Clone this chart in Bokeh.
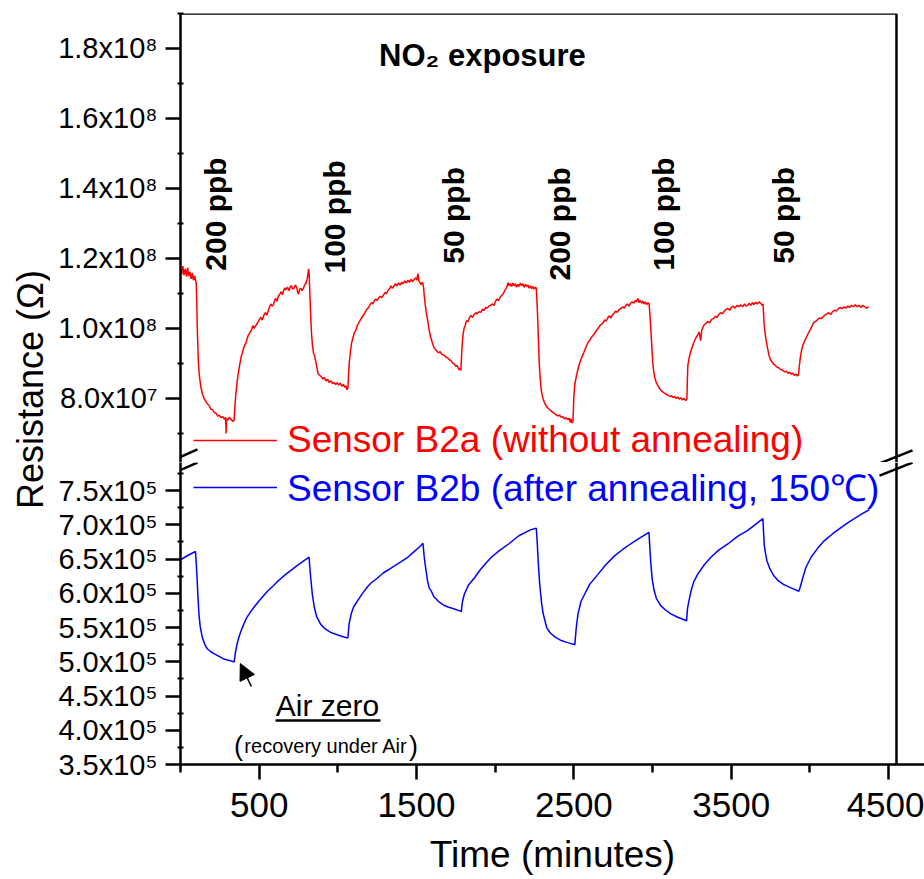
import math
from bokeh.plotting import figure
from bokeh.models import (Range1d, FixedTicker, Label, Arrow,
                          NormalHead, Legend, LegendItem)
from bokeh.layouts import row, column
from bokeh.core.properties import value
from bokeh.embed import file_html
from bokeh.resources import INLINE

FONT = "Liberation Sans"

# ---------------- data (time in minutes, resistance in the axis units) ----------------
# Sensor B2a, resistance in units of 1e7 ohm
red_time = [
    0, 8, 15, 22, 30, 38, 45, 52, 60, 68, 75, 82, 90, 97,
    100, 104, 108, 113, 118, 124, 131, 140, 150, 160,
    170, 182, 192, 203, 214, 225, 236, 246, 258, 268,
    280, 287, 290, 293, 300, 310, 322, 332, 341,
    346, 352, 358, 365, 372, 380, 386, 393, 400, 408,
    415, 423, 430, 438, 445, 453, 460, 468, 475, 484,
    493, 502, 510, 518, 525, 533, 540, 548, 557, 566,
    575, 583, 590, 598, 605, 613, 622, 631, 640, 648,
    655, 663, 670, 680, 690, 698, 705, 713, 722, 730,
    738, 744, 750, 757, 765, 772, 780, 790, 798, 804,
    810, 814, 817,
    822, 827, 832, 838, 845, 851, 862, 874, 885, 895,
    905, 913, 925, 935, 945, 957, 966, 976, 986, 995,
    1005, 1015, 1025, 1035, 1045, 1052, 1058, 1064,
    1068, 1073, 1080, 1088, 1097, 1105, 1115, 1123, 1132, 1140,
    1150, 1158, 1166, 1175, 1185, 1195, 1205, 1214, 1222, 1230,
    1240, 1250, 1260, 1270, 1280, 1290, 1300, 1310, 1320, 1330,
    1338, 1346, 1355, 1365, 1375, 1385, 1395, 1405, 1415, 1425,
    1435, 1445, 1455, 1465, 1475, 1485, 1495, 1502, 1509, 1515,
    1522, 1529, 1536, 1541,
    1545, 1550, 1556, 1562, 1568, 1573, 1580, 1590, 1600, 1611,
    1620, 1630, 1640, 1650, 1660, 1675, 1688, 1700, 1710, 1719,
    1728, 1740, 1750, 1758, 1763, 1770, 1776, 1782,
    1786, 1790, 1795, 1802, 1810, 1818, 1827, 1836, 1846, 1856,
    1866, 1876, 1886, 1896, 1909, 1920, 1930, 1940, 1950, 1960,
    1970, 1980, 1992, 2002, 2012, 2022, 2032, 2042, 2052, 2060,
    2068, 2075, 2081, 2088, 2096, 2104, 2112, 2120, 2128, 2136,
    2144, 2152, 2160, 2168, 2176, 2184, 2192, 2200, 2208, 2216,
    2224, 2232, 2240, 2248, 2255, 2261,
    2265, 2270, 2275, 2280, 2286, 2291, 2298, 2305, 2313, 2322,
    2332, 2342, 2352, 2362, 2372, 2382, 2392, 2399, 2410, 2420,
    2430, 2440, 2450, 2460, 2470, 2476, 2481, 2488, 2494,
    2497, 2500, 2506, 2515, 2524, 2532, 2545, 2560, 2575, 2589,
    2600, 2612, 2625, 2640, 2653, 2665, 2675, 2685, 2695, 2706,
    2716, 2726, 2736, 2746, 2756, 2766, 2776, 2786, 2799, 2810,
    2820, 2830, 2840, 2850, 2860, 2870, 2881, 2890, 2898, 2906,
    2914, 2922, 2930, 2938, 2946, 2954, 2962, 2970, 2978,
    2983, 2990, 2996, 3001, 3008, 3015, 3024, 3033, 3045, 3060,
    3075, 3087, 3097, 3110, 3120, 3130, 3140, 3150, 3160, 3170,
    3180, 3190, 3200, 3211, 3218,
    3221, 3224, 3232, 3240, 3250, 3262, 3274, 3285, 3296, 3306,
    3312, 3326, 3338, 3350, 3362, 3375, 3389, 3400, 3410, 3420,
    3432, 3444, 3456, 3467, 3478, 3490, 3500, 3512, 3524, 3536,
    3548, 3560, 3572, 3584, 3596, 3605, 3615, 3625, 3635, 3645,
    3655, 3665, 3675, 3688, 3696, 3702,
    3705, 3708, 3714, 3720, 3730, 3740, 3750, 3760, 3770, 3780,
    3790, 3800, 3810, 3820, 3830, 3840, 3850, 3860, 3870, 3880,
    3890, 3900, 3910, 3918, 3924, 3927,
    3932, 3937, 3941, 3948, 3955, 3964, 3973, 3985, 4000, 4012,
    4024, 4036, 4048, 4060, 4072, 4084, 4096, 4108, 4120, 4132,
    4144, 4156, 4168, 4180, 4192, 4204, 4216, 4228, 4240, 4252,
    4264, 4276, 4288, 4300, 4312, 4324, 4336, 4348, 4360, 4374,
]
red_res_1e7 = [
    11.72, 11.55, 11.78, 11.52, 11.70, 11.48, 11.74, 11.50, 11.62, 11.42, 11.58, 11.38, 11.50, 11.35,
    11.30, 10.60, 9.80, 9.10, 8.75, 8.50, 8.29, 8.12, 8.00, 7.92,
    7.85, 7.80, 7.70, 7.68, 7.60, 7.58, 7.50, 7.52, 7.45, 7.48,
    7.40, 7.46, 7.00, 7.42, 7.38, 7.46, 7.40, 7.34, 7.38,
    7.80, 8.15, 8.40, 8.65, 8.85, 9.05, 9.20, 9.30, 9.42, 9.52,
    9.58, 9.70, 9.80, 9.85, 9.92, 9.98, 10.08, 10.00, 10.06, 10.12,
    10.18, 10.26, 10.32, 10.24, 10.30, 10.42, 10.45, 10.38, 10.50, 10.62,
    10.70, 10.64, 10.68, 10.80, 10.86, 10.78, 10.92, 10.98, 11.05, 10.96,
    11.08, 11.16, 11.10, 11.18, 11.08, 11.20, 11.22, 11.12, 11.15, 11.24,
    11.18, 11.05, 10.98, 11.12, 11.15, 11.08, 11.14, 11.25, 11.30, 11.40,
    11.55, 11.70, 11.62,
    11.00, 10.40, 9.90, 9.55, 9.30, 9.23, 9.00, 8.72, 8.66, 8.62,
    8.55, 8.60, 8.50, 8.55, 8.46, 8.50, 8.42, 8.46, 8.40, 8.45,
    8.38, 8.44, 8.35, 8.40, 8.32, 8.36, 8.25, 8.30,
    8.70, 9.05, 9.35, 9.60, 9.75, 9.88, 9.95, 10.08, 10.15, 10.22,
    10.30, 10.35, 10.40, 10.48, 10.55, 10.60, 10.68, 10.74, 10.70, 10.78,
    10.84, 10.80, 10.88, 10.92, 10.88, 10.96, 11.02, 11.00, 11.10, 11.14,
    11.22, 11.15, 11.20, 11.28, 11.22, 11.30, 11.24, 11.32, 11.28, 11.36,
    11.30, 11.38, 11.32, 11.40, 11.34, 11.40, 11.45, 11.38, 11.57, 11.36,
    11.30, 11.25, 11.32, 11.28,
    11.15, 10.90, 10.65, 10.45, 10.30, 10.17, 9.95, 9.75, 9.60, 9.45,
    9.40, 9.35, 9.30, 9.34, 9.26, 9.23, 9.18, 9.15, 9.10, 9.08,
    9.02, 8.98, 8.92, 8.95, 8.88, 8.82, 8.86, 8.80,
    9.20, 9.55, 9.80, 10.00, 10.10, 10.22, 10.20, 10.30, 10.37, 10.32,
    10.40, 10.45, 10.42, 10.48, 10.46, 10.55, 10.52, 10.60, 10.58, 10.64,
    10.66, 10.70, 10.66, 10.78, 10.84, 10.80, 10.90, 10.95, 11.00, 11.08,
    11.14, 11.20, 11.31, 11.22, 11.28, 11.20, 11.30, 11.22, 11.28, 11.18,
    11.26, 11.20, 11.30, 11.22, 11.28, 11.18, 11.26, 11.20, 11.24, 11.15,
    11.22, 11.14, 11.20, 11.12, 11.18, 11.15,
    10.80, 10.30, 9.60, 9.00, 8.55, 8.29, 8.10, 7.98, 7.88, 7.80,
    7.74, 7.70, 7.65, 7.62, 7.58, 7.55, 7.52, 7.50, 7.52, 7.46,
    7.48, 7.42, 7.45, 7.40, 7.43, 7.32, 7.42, 7.30, 7.35,
    7.70, 8.09, 8.40, 8.62, 8.80, 8.94, 9.12, 9.28, 9.45, 9.60,
    9.66, 9.75, 9.82, 9.92, 10.00, 10.08, 10.12, 10.16, 10.24, 10.22,
    10.31, 10.36, 10.30, 10.40, 10.44, 10.50, 10.46, 10.54, 10.57, 10.62,
    10.58, 10.66, 10.70, 10.64, 10.72, 10.76, 10.72, 10.80, 10.76, 10.86,
    10.74, 10.80, 10.72, 10.78, 10.70, 10.76, 10.68, 10.74, 10.70,
    10.40, 9.90, 9.40, 9.03, 8.75, 8.58, 8.45, 8.37, 8.28, 8.20,
    8.15, 8.12, 8.09, 8.06, 8.08, 8.03, 8.06, 8.00, 8.04, 7.98,
    8.02, 7.96, 8.00, 7.94, 7.98,
    8.50, 8.94, 9.15, 9.30, 9.45, 9.60, 9.72, 9.80, 9.90, 9.65,
    9.95, 10.09, 10.14, 10.20, 10.16, 10.26, 10.29, 10.35, 10.32, 10.40,
    10.45, 10.42, 10.50, 10.55, 10.57, 10.52, 10.60, 10.64, 10.58, 10.66,
    10.62, 10.68, 10.62, 10.70, 10.64, 10.66, 10.72, 10.66, 10.74, 10.68,
    10.75, 10.70, 10.76, 10.72, 10.66, 10.70,
    10.45, 10.17, 9.90, 9.70, 9.45, 9.23, 9.10, 9.04, 8.98, 8.94,
    8.90, 8.88, 8.84, 8.82, 8.80, 8.76, 8.78, 8.72, 8.75, 8.70,
    8.72, 8.66, 8.70, 8.64, 8.68, 8.66,
    8.90, 9.10, 9.23, 9.40, 9.52, 9.62, 9.71, 9.82, 9.95, 10.06,
    10.17, 10.20, 10.25, 10.30, 10.28, 10.34, 10.38, 10.42, 10.45, 10.40,
    10.48, 10.52, 10.50, 10.56, 10.60, 10.56, 10.62, 10.58, 10.64, 10.60,
    10.66, 10.62, 10.68, 10.62, 10.66, 10.60, 10.66, 10.62, 10.58, 10.62,
]

# Sensor B2b, resistance in units of 1e5 ohm
blue_time = [
    0, 30, 60, 95, 100, 106, 111, 117, 125, 138,
    155, 170, 190, 212, 245, 276, 310, 336, 341, 348,
    356, 365, 380, 395, 404, 420, 440, 468, 500, 530,
    557, 590, 615, 640, 670, 700, 722, 750, 780, 800,
    817, 821, 829, 838, 850, 865, 890, 920, 954, 1000,
    1054, 1064, 1071, 1085, 1100, 1128, 1160, 1190, 1211, 1250,
    1290, 1319, 1360, 1400, 1446, 1490, 1520, 1541, 1548, 1556,
    1570, 1580, 1592, 1610, 1645, 1670, 1700, 1740, 1780, 1784,
    1792, 1804, 1830, 1870, 1900, 1940, 1977, 2030, 2085, 2150,
    2227, 2261, 2268, 2274, 2282, 2295, 2305, 2327, 2350, 2381,
    2420, 2460, 2506, 2515, 2526, 2545, 2569, 2600, 2654, 2700,
    2760, 2810, 2860, 2920, 2977, 2983, 2989, 2998, 3010, 3025,
    3052, 3080, 3116, 3160, 3216, 3222, 3232, 3245, 3262, 3287,
    3330, 3372, 3420, 3478, 3540, 3605, 3650, 3701, 3705, 3710,
    3718, 3726, 3745, 3769, 3800, 3832, 3880, 3929, 3934, 3942,
    3955, 3975, 4008, 4050, 4092, 4145, 4197, 4240, 4282, 4330,
    4378,
]
blue_res_1e5 = [
    6.49, 6.53, 6.57, 6.61, 6.45, 6.19, 5.95, 5.70, 5.52, 5.36,
    5.25, 5.19, 5.15, 5.12, 5.08, 5.04, 5.02, 5.00, 5.00, 5.12,
    5.22, 5.31, 5.42, 5.51, 5.56, 5.64, 5.71, 5.80, 5.89, 5.97,
    6.04, 6.11, 6.17, 6.22, 6.28, 6.33, 6.37, 6.42, 6.47, 6.50,
    6.53, 6.40, 6.19, 5.98, 5.80, 5.66, 5.55, 5.48, 5.43, 5.39,
    5.35, 5.35, 5.55, 5.70, 5.80, 5.90, 6.01, 6.10, 6.15, 6.22,
    6.30, 6.34, 6.40, 6.46, 6.53, 6.62, 6.68, 6.73, 6.55, 6.40,
    6.18, 6.08, 6.04, 5.95, 5.87, 5.83, 5.80, 5.77, 5.74, 5.73,
    5.88, 5.99, 6.12, 6.23, 6.33, 6.44, 6.53, 6.63, 6.72, 6.84,
    6.93, 6.95, 6.70, 6.43, 6.15, 5.85, 5.70, 5.50, 5.42, 5.36,
    5.31, 5.28, 5.25, 5.50, 5.70, 5.88, 5.99, 6.13, 6.28, 6.41,
    6.55, 6.64, 6.72, 6.81, 6.89, 6.65, 6.43, 6.20, 6.04, 5.92,
    5.82, 5.76, 5.70, 5.65, 5.60, 5.78, 5.90, 6.04, 6.17, 6.28,
    6.42, 6.53, 6.63, 6.72, 6.83, 6.92, 7.00, 7.09, 6.90, 6.70,
    6.58, 6.48, 6.36, 6.26, 6.18, 6.13, 6.08, 6.03, 6.06, 6.12,
    6.23, 6.38, 6.53, 6.66, 6.77, 6.87, 6.96, 7.03, 7.09, 7.16,
    7.22,
]

x_major = [500, 1500, 2500, 3500, 4500]
x_minor = [0, 1000, 2000, 3000, 4000]
top_ticks = [8, 10, 12, 14, 16, 18]
top_labels = ["8.0x10⁷", "1.0x10⁸", "1.2x10⁸", "1.4x10⁸", "1.6x10⁸", "1.8x10⁸"]
top_minor = [7, 9, 11, 13, 15, 17, 19]
bot_ticks = [3.5, 4.0, 4.5, 5.0, 5.5, 6.0, 6.5, 7.0, 7.5]
bot_labels = ["3.5x10⁵", "4.0x10⁵", "4.5x10⁵", "5.0x10⁵", "5.5x10⁵",
              "6.0x10⁵", "6.5x10⁵", "7.0x10⁵", "7.5x10⁵"]
bot_minor = [3.75, 4.25, 4.75, 5.25, 5.75, 6.25, 6.75, 7.25, 7.75]

ppb_labels = ["200 ppb", "100 ppb", "50 ppb", "200 ppb", "100 ppb", "50 ppb"]
ppb_time = [222, 979, 1735, 2409, 3069, 3832]
ppb_res_1e7 = [11.65, 11.57, 11.85, 11.37, 11.65, 11.85]

AX = 2.5
X_BORDER = 4550            # position of the right-hand frame line (minutes)
x_range = Range1d(0, 4728)
TOP_Y = (6.17, 19.0)
BOT_Y = (3.5, 7.91)


def style_left(ax, ticks, labels, minor):
    ax.ticker = FixedTicker(ticks=ticks, minor_ticks=minor)
    ax.major_label_overrides = dict(zip(ticks, labels))
    ax.major_label_text_font = FONT
    ax.major_label_text_font_size = "29px"
    ax.major_label_text_color = "black"
    ax.major_label_standoff = 8
    ax.major_tick_out = 15
    ax.major_tick_in = 0
    ax.minor_tick_out = 3
    ax.minor_tick_in = 3
    ax.axis_line_width = AX
    ax.major_tick_line_width = AX
    ax.minor_tick_line_width = 2
    ax.axis_line_color = "black"
    ax.major_tick_line_color = "black"
    ax.minor_tick_line_color = "black"


def rule(x0, y0, x1, y1, width=2.5):
    return Arrow(start=None, end=None, x_start=x0, y_start=y0, x_end=x1, y_end=y1,
                 line_width=width, line_color="black")


# ---------------- top panel (Sensor B2a) ----------------
top = figure(width=874, height=462, x_range=x_range, y_range=Range1d(*TOP_Y),
             x_axis_location=None, output_backend="svg", toolbar_location=None,
             min_border_left=130, min_border_right=0, min_border_top=13, min_border_bottom=0)
top.outline_line_color = None
top.grid.grid_line_color = None
style_left(top.yaxis[0], top_ticks, top_labels, top_minor)

r_red = top.line(red_time, red_res_1e7, line_color="#ff0000", line_width=1.5)

top.text(x=ppb_time, y=ppb_res_1e7, text=ppb_labels, angle=math.pi / 2,
         text_align="left", text_baseline="middle", text_font=value(FONT),
         text_font_style="bold", text_font_size="30px", text_color="black")

top.add_layout(Label(x=1919, y=17.79, text="NO₂ exposure", text_font=FONT,
                     text_font_style="bold", text_font_size="31px",
                     text_align="center", text_baseline="middle", text_color="black"))

leg_red = Legend(items=[LegendItem(label="Sensor B2a (without annealing)", renderers=[r_red])],
                 location=(13, 1), padding=0, margin=0, spacing=0,
                 glyph_width=84, glyph_height=20, label_standoff=10,
                 label_text_font=FONT, label_text_font_size="37px",
                 label_text_color="#ff0000", border_line_color=None,
                 background_fill_alpha=0)
top.add_layout(leg_red)

# frame lines (top, right) and axis-break marks
top.add_layout(rule(0, TOP_Y[1], X_BORDER, TOP_Y[1]))
top.add_layout(rule(X_BORDER, TOP_Y[0], X_BORDER, TOP_Y[1]))
top.add_layout(rule(-95, 6.144, 108, 6.544))
top.add_layout(rule(4442, 6.144, 4652, 6.516))

# ---------------- bottom panel (Sensor B2b) ----------------
bot = figure(width=874, height=417, x_range=x_range, y_range=Range1d(*BOT_Y),
             output_backend="svg", toolbar_location=None,
             min_border_left=130, min_border_right=0, min_border_top=0, min_border_bottom=115)
bot.outline_line_color = None
bot.grid.grid_line_color = None
style_left(bot.yaxis[0], bot_ticks, bot_labels, bot_minor)

xa = bot.xaxis[0]
xa.ticker = FixedTicker(ticks=x_major, minor_ticks=x_minor)
xa.major_label_text_font = FONT
xa.major_label_text_font_size = "35px"
xa.major_label_text_color = "black"
xa.major_label_standoff = 13
xa.major_tick_out = 15
xa.major_tick_in = 0
xa.minor_tick_out = 8
xa.minor_tick_in = 0
xa.axis_line_width = AX
xa.major_tick_line_width = AX
xa.minor_tick_line_width = AX
xa.axis_line_color = "black"
xa.axis_label = "Time (minutes)"
xa.axis_label_text_font = FONT
xa.axis_label_text_font_size = "37px"
xa.axis_label_text_font_style = "normal"
xa.axis_label_text_color = "black"
xa.axis_label_standoff = 14

r_blue = bot.line(blue_time, blue_res_1e5, line_color="#0000ff", line_width=1.5)

leg_blue = Legend(items=[LegendItem(label="Sensor B2b (after annealing, 150℃)", renderers=[r_blue])],
                  location=(13, 252), padding=0, margin=0, spacing=0,
                  glyph_width=84, glyph_height=20, label_standoff=10,
                  label_text_font=FONT, label_text_font_size="37px",
                  label_text_color="#0000ff", border_line_color=None,
                  background_fill_alpha=0)
bot.add_layout(leg_blue)

bot.add_layout(rule(X_BORDER, BOT_Y[0], X_BORDER, BOT_Y[1]))
bot.add_layout(rule(-95, 7.704, 108, 7.909))
bot.add_layout(rule(4442, 7.719, 4652, 7.909))

bot.add_layout(Arrow(end=NormalHead(size=16, fill_color="black", line_color="black"),
                     x_start=450, y_start=4.64, x_end=380, y_end=4.975,
                     line_width=1.5, line_color="black"))
bot.add_layout(Label(x=934, y=4.36, text="Air zero", text_font=FONT, text_font_size="30px",
                     text_align="center", text_baseline="middle", text_color="black"))
bot.add_layout(rule(604, 4.142, 1271, 4.142))
bot.add_layout(Label(x=925, y=3.777, text="recovery under Air", text_font=FONT,
                     text_font_size="20px", text_align="center", text_baseline="middle",
                     text_color="black"))
bot.add_layout(Label(x=369, y=3.777, text="(", text_font=FONT, text_font_size="27px",
                     text_align="center", text_baseline="middle", text_color="black"))
bot.add_layout(Label(x=1481, y=3.777, text=")", text_font=FONT, text_font_size="27px",
                     text_align="center", text_baseline="middle", text_color="black"))

# ---------------- shared y-axis title ----------------
lab = figure(width=50, height=879, x_range=Range1d(0, 50), y_range=Range1d(0, 879),
             x_axis_location=None, y_axis_location=None, output_backend="svg",
             toolbar_location=None, min_border=0)
lab.outline_line_color = None
lab.grid.grid_line_color = None
lab.add_layout(Label(x=30, y=490, text="Resistance (Ω)", angle=math.pi / 2,
                     text_font=FONT, text_font_size="36px", text_align="center",
                     text_baseline="middle", text_color="black"))

layout = row(lab, column(top, bot))
open("out.html", "w").write(file_html(layout, INLINE))
